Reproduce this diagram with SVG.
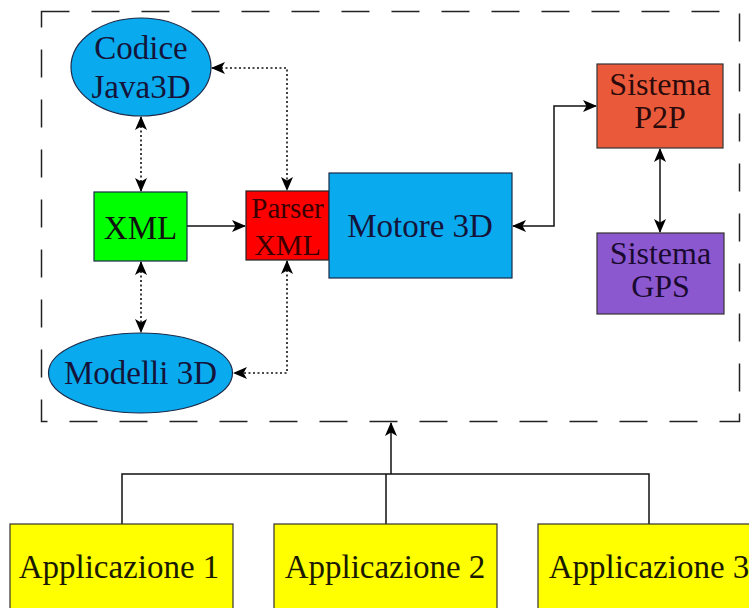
<svg xmlns="http://www.w3.org/2000/svg" width="749" height="608" viewBox="0 0 749 608">
<defs>
<style>
text{font-family:"Liberation Serif","Times New Roman",serif;font-size:33px;text-anchor:middle;fill:#14143a}
.b{stroke:#1a2a4a;stroke-width:1.2}
.solid{fill:none;stroke:#111;stroke-width:1.5}
.dot{fill:none;stroke:#111;stroke-width:1.6;stroke-dasharray:2 2.5}
.two{font-size:32px}
</style>
<marker id="ah" viewBox="0 0 14 12" refX="13" refY="6" markerWidth="14" markerHeight="12" markerUnits="userSpaceOnUse" orient="auto-start-reverse">
<path d="M0,0 L14,6 L0,12 L3.5,6 Z" fill="#000"/>
</marker>
</defs>
<rect x="0" y="0" width="749" height="608" fill="#fff"/>
<rect x="41.5" y="11.5" width="698" height="410" fill="none" stroke="#222" stroke-width="1.5" stroke-dasharray="28 22"/>

<g id="connectors">
<path class="dot" d="M141,117 V191" marker-start="url(#ah)" marker-end="url(#ah)"/>
<path class="dot" d="M212,68 H287 V190" marker-start="url(#ah)" marker-end="url(#ah)"/>
<path class="dot" d="M141,262 V332" marker-start="url(#ah)" marker-end="url(#ah)"/>
<path class="dot" d="M287,261 V373 H234" marker-start="url(#ah)" marker-end="url(#ah)"/>
<path class="solid" d="M187,226 H245" marker-end="url(#ah)"/>
<path class="solid" d="M513,226 H554 V106 H596" marker-start="url(#ah)" marker-end="url(#ah)"/>
<path class="solid" d="M660,149 V232" marker-start="url(#ah)" marker-end="url(#ah)"/>
<path class="solid" d="M122,524 V474 H649 V524 M386,524 V474 M391,474 V423" marker-end="url(#ah)"/>
</g>

<g id="codice">
<ellipse class="b" cx="141" cy="67" rx="70" ry="49" fill="#0aaaee"/>
<text x="141" y="59">Codice</text>
<text x="141" y="98">Java3D</text>
</g>
<g id="xml">
<rect class="b" x="94" y="192" width="93" height="69" fill="#00ff00" stroke="#222"/>
<text x="140.5" y="239" style="fill:#101010">XML</text>
</g>
<g id="parser">
<rect x="246" y="191" width="83" height="69" fill="#ff0000" stroke="#222" stroke-width="1.2"/>
<text x="287.5" y="218" style="font-size:29px;fill:#3a0000">Parser</text>
<text x="287.5" y="255" style="font-size:30px;fill:#3a0000">XML</text>
</g>
<g id="motore">
<rect class="b" x="329" y="173" width="183" height="105" fill="#0aaaee"/>
<text x="420" y="237">Motore 3D</text>
</g>
<g id="modelli">
<ellipse class="b" cx="140.5" cy="373" rx="92" ry="40" fill="#0aaaee"/>
<text x="140.5" y="384">Modelli 3D</text>
</g>
<g id="p2p">
<rect x="597" y="64" width="126" height="84" fill="#ea5a3a" stroke="#333" stroke-width="1.2"/>
<text class="two" x="660" y="95" style="fill:#2a0a0a">Sistema</text>
<text class="two" x="660" y="128" style="fill:#2a0a0a">P2P</text>
</g>
<g id="gps">
<rect x="597" y="233" width="127" height="81" fill="#8c58d0" stroke="#333" stroke-width="1.2"/>
<text class="two" x="660.5" y="264" style="fill:#1a0a30">Sistema</text>
<text class="two" x="660.5" y="297" style="fill:#1a0a30">GPS</text>
</g>
<g id="app1">
<rect x="10" y="524" width="223" height="90" fill="#ffff00" stroke="#333" stroke-width="1.2"/>
<text x="119" y="578" style="fill:#1a1a00">Applicazione 1</text>
</g>
<g id="app2">
<rect x="274" y="524" width="223" height="90" fill="#ffff00" stroke="#333" stroke-width="1.2"/>
<text x="385" y="578" style="fill:#1a1a00">Applicazione 2</text>
</g>
<g id="app3">
<rect x="538" y="524" width="223" height="90" fill="#ffff00" stroke="#333" stroke-width="1.2"/>
<text x="649" y="578" style="fill:#1a1a00">Applicazione 3</text>
</g>
</svg>
